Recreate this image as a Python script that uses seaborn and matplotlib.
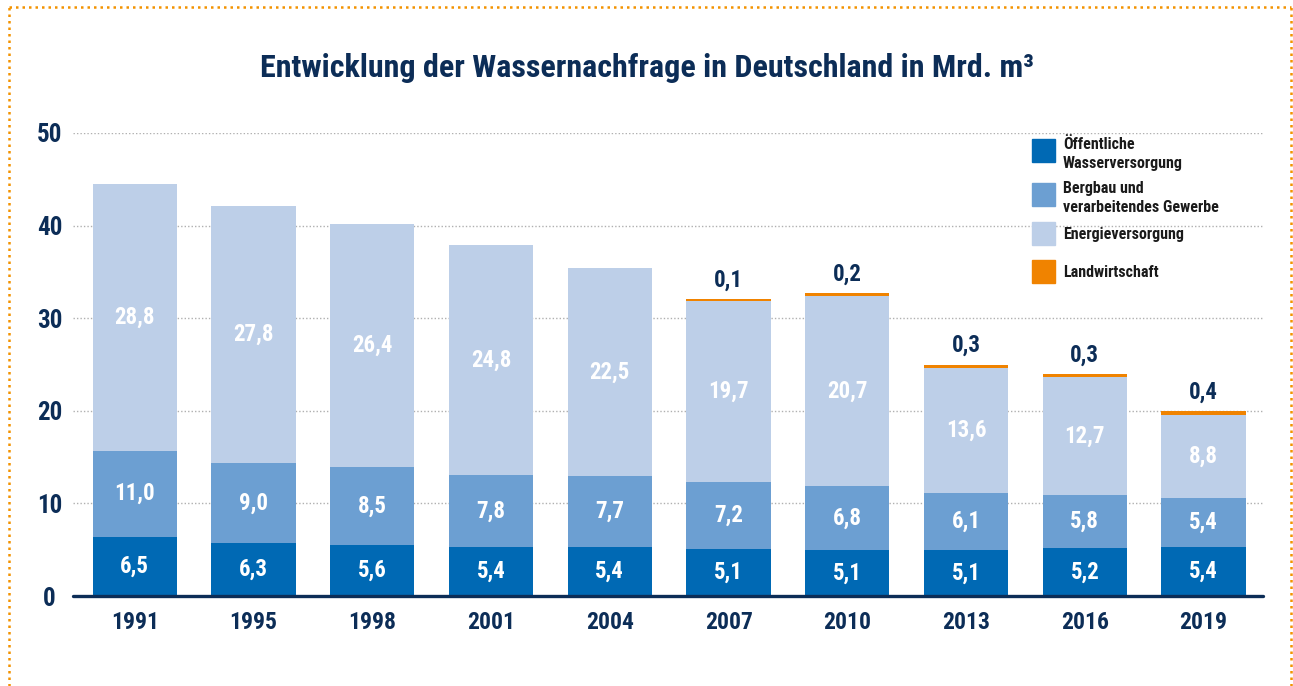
import matplotlib
matplotlib.use("Agg")
import matplotlib.pyplot as plt
from matplotlib import font_manager
import pandas as pd
import seaborn as sns
from matplotlib.patches import Rectangle
from matplotlib.lines import Line2D

# Data (Mrd. m³)
years = ["1991", "1995", "1998", "2001", "2004", "2007", "2010", "2013", "2016", "2019"]
# printed labels
lbl_oeffentlich = ["6,5", "6,3", "5,6", "5,4", "5,4", "5,1", "5,1", "5,1", "5,2", "5,4"]
lbl_bergbau = ["11,0", "9,0", "8,5", "7,8", "7,7", "7,2", "6,8", "6,1", "5,8", "5,4"]
lbl_energie = ["28,8", "27,8", "26,4", "24,8", "22,5", "19,7", "20,7", "13,6", "12,7", "8,8"]
lbl_landwirtschaft = ["", "", "", "", "", "0,1", "0,2", "0,3", "0,3", "0,4"]
# segment heights as drawn in the chart
oeffentlich = [6.4, 5.7, 5.5, 5.3, 5.3, 5.1, 5.0, 5.0, 5.2, 5.3]
bergbau = [9.3, 8.7, 8.4, 7.8, 7.7, 7.2, 6.9, 6.1, 5.7, 5.3]
energie = [28.8, 27.7, 26.3, 24.8, 22.4, 19.6, 20.5, 13.5, 12.75, 8.9]
landwirtschaft = [0, 0, 0, 0, 0, 0.2, 0.3, 0.4, 0.35, 0.5]

legend_labels = ["Öffentliche\nWasserversorgung", "Bergbau und\nverarbeitendes Gewerbe",
                 "Energieversorgung", "Landwirtschaft"]

NAVY = "#0c2d57"
colors = ["#0069b4", "#6c9fd2", "#bdcfe8", "#f08300"]

# pick a condensed font if one is installed
installed = {f.name for f in font_manager.fontManager.ttflist}
font_name = "Roboto"
for cand in ["Liberation Sans Narrow", "DejaVu Sans Condensed", "Roboto Condensed",
             "Open Sans Condensed", "Roboto"]:
    if cand in installed:
        font_name = cand
        break
FONT = [font_name, "DejaVu Sans"]

df = pd.DataFrame({"year": years, "oe": oeffentlich, "be": bergbau,
                   "en": energie, "la": landwirtschaft})
df["c1"] = df["oe"]
df["c2"] = df["c1"] + df["be"]
df["c3"] = df["c2"] + df["en"]
df["c4"] = df["c3"] + df["la"]

sns.set_style("white")
plt.rcParams["font.family"] = FONT
plt.rcParams["font.weight"] = "bold"

W, H = 1293, 686
fig = plt.figure(figsize=(W / 100, H / 100), dpi=100)
ax = fig.add_axes([73 / W, 1 - 596 / H, (1263 - 73) / W, (596 - 133) / H])

# gridlines behind the bars
for v in [10, 20, 30, 40, 50]:
    ax.axhline(v, color="#b0b0b0", lw=1.0, ls=(0, (1, 1.5)), zorder=0)

# stacked bars: draw cumulative totals, largest first
for col, c in zip(["c4", "c3", "c2", "c1"], colors[::-1]):
    sns.barplot(data=df, x="year", y=col, color=c, saturation=1, width=0.71,
                linewidth=0, ax=ax, zorder=2)

ax.set_xlim(-0.52, 9.5)
ax.set_ylim(0, 50)
ax.set_xlabel("")
ax.set_ylabel("")
for s in ax.spines.values():
    s.set_visible(False)
ax.axhline(0, color=NAVY, lw=2.4, zorder=3, clip_on=False)

ax.set_yticks([0, 10, 20, 30, 40, 50])
ax.tick_params(axis="both", length=0, labelsize=17, labelcolor=NAVY)
ax.tick_params(axis="y", labelsize=18, pad=17)
ax.tick_params(axis="x", pad=11)
for t in ax.get_yticklabels():
    t.set_horizontalalignment("center")
    t.set_fontweight("bold")
for t in ax.get_xticklabels():
    t.set_fontweight("bold")

# value labels
for i in range(len(years)):
    ax.text(i, df["c1"][i] / 2, lbl_oeffentlich[i], ha="center", va="center",
            color="white", fontsize=16.5, fontweight="bold", zorder=4)
    ax.text(i, (df["c1"][i] + df["c2"][i]) / 2, lbl_bergbau[i], ha="center", va="center",
            color="white", fontsize=16.5, fontweight="bold", zorder=4)
    ax.text(i, (df["c2"][i] + df["c3"][i]) / 2, lbl_energie[i], ha="center", va="center",
            color="white", fontsize=16.5, fontweight="bold", zorder=4)
    if lbl_landwirtschaft[i]:
        ax.annotate(lbl_landwirtschaft[i], (i, df["c4"][i]), xytext=(0, 13.5),
                    textcoords="offset points", ha="center", va="center",
                    color=NAVY, fontsize=16.5, fontweight="bold")

# title
fig.text(0.5, 1 - 68 / H, "Entwicklung der Wassernachfrage in Deutschland in Mrd. m³",
         ha="center", va="center", color=NAVY, fontsize=23, fontweight="bold")

# legend
sq_tops = [139, 183, 222, 260]
for top, lab, c in zip(sq_tops, legend_labels, colors):
    fig.patches.append(Rectangle((1032 / W, 1 - (top + 23) / H), 23 / W, 23 / H,
                                 transform=fig.transFigure, color=c))
    if "\n" in lab:
        fig.text(1063 / W, 1 - (top - 2) / H, lab, ha="left", va="top", color="#1a1a1a",
                 fontsize=11.5, fontweight="bold", linespacing=1.35)
    else:
        fig.text(1063 / W, 1 - (top + 12) / H, lab, ha="left", va="center", color="#1a1a1a",
                 fontsize=11.5, fontweight="bold")

# dotted orange frame
frame = dict(color="#f39200", lw=1.8, ls=(0, (1, 1.6)), transform=fig.transFigure)
fig.lines.append(Line2D([9 / W, 9 / W], [0, 1 - 7 / H], **frame))
fig.lines.append(Line2D([9 / W, 1291 / W], [1 - 7 / H, 1 - 7 / H], **frame))
fig.lines.append(Line2D([1291 / W, 1291 / W], [0, 1 - 7 / H], **frame))

fig.savefig("out.png", dpi=100)
